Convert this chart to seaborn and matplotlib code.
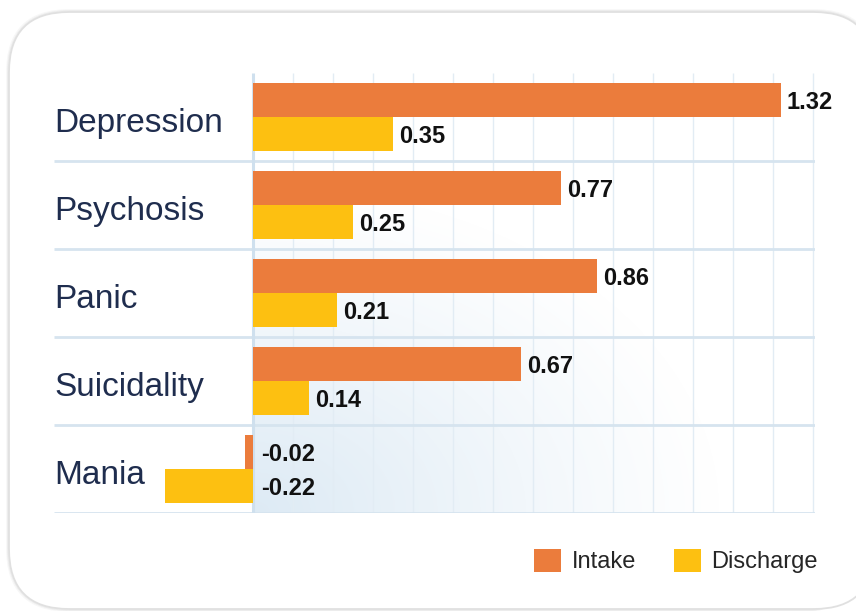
import numpy as np
import pandas as pd
import seaborn as sns
import matplotlib.pyplot as plt
from matplotlib.patches import FancyBboxPatch

# ---- data ----
categories = ["Depression", "Psychosis", "Panic", "Suicidality", "Mania"]
series_names = ["Intake", "Discharge"]
intake = [1.32, 0.77, 0.86, 0.67, -0.02]
discharge = [0.35, 0.25, 0.21, 0.14, -0.22]
grid_values = [0.1, 0.2, 0.3, 0.4, 0.5, 0.6, 0.7, 0.8, 0.9, 1.0, 1.1, 1.2, 1.3, 1.4]

df = pd.DataFrame({
    "category": categories * 2,
    "series": [series_names[0]] * len(categories) + [series_names[1]] * len(categories),
    "value": intake + discharge,
})

ORANGE = "#EB7C3C"
YELLOW = "#FDC011"
NAVY = "#1f2d4e"
GRID = "#d6e4ef"

sns.set_theme(style="white")
plt.rcParams["font.family"] = ["Liberation Sans", "DejaVu Sans"]

W, H = 856, 611
fig = plt.figure(figsize=(W / 100, H / 100), dpi=100)
fig.patch.set_facecolor("white")

# background layer in pixel coordinates: rounded card
bg = fig.add_axes([0, 0, 1, 1])
bg.set_xlim(0, W)
bg.set_ylim(H, 0)
bg.axis("off")
for off, a in [(2.0, 0.08), (1.0, 0.14)]:
    bg.add_patch(FancyBboxPatch((9 - off, 12 - off), 865 + 2 * off, 597 + 2 * off,
                                boxstyle="round,pad=0,rounding_size=62",
                                fc="none", ec="#9a9a9a", lw=1.2, alpha=a))
bg.add_patch(FancyBboxPatch((9, 12), 865, 597,
                            boxstyle="round,pad=0,rounding_size=60",
                            fc="white", ec="#e0e0e0", lw=1.3))

# main plot area
L, R, T, B = 54, 815, 73, 513
ZERO_PX, PX_PER_UNIT = 253, 400.0
ax = fig.add_axes([L / W, (H - B) / H, (R - L) / W, (B - T) / H])
ax.patch.set_alpha(0)
xmin = -(ZERO_PX - L) / PX_PER_UNIT
xmax = (R - ZERO_PX) / PX_PER_UNIT

# soft blue glow in the lower-left of the value region
nx, ny = 400, 300
gx = np.linspace(0, xmax, nx)
gy = np.linspace(-0.5, 4.5, ny)
X, Y = np.meshgrid(gx, gy)
px = X * PX_PER_UNIT
py = (4.5 - Y) * (B - T) / 5.0
d = np.sqrt((px / 470.0) ** 2 + (py / 330.0) ** 2)
alpha = np.clip(1 - d, 0, 1) ** 1.1 * 0.95
img = np.zeros((ny, nx, 4))
img[..., 0] = 0.86
img[..., 1] = 0.915
img[..., 2] = 0.96
img[..., 3] = alpha
ax.imshow(img, extent=(0, xmax, 4.5, -0.5), origin="upper", aspect="auto",
          interpolation="bilinear", zorder=0)

sns.barplot(data=df, y="category", x="value", hue="series", orient="h",
            palette=[ORANGE, YELLOW], width=0.78, saturation=1,
            order=categories, hue_order=series_names, ax=ax, zorder=3,
            errorbar=None, linewidth=0, edgecolor="none")

ax.set_xlim(xmin, xmax)
ax.set_ylim(4.5, -0.5)

# grid
ax.vlines(grid_values, -0.5, 4.5, color="#e2ecf4", lw=1.0, zorder=1)
ax.hlines([0.5, 1.5, 2.5, 3.5, 4.5], xmin, xmax, color=GRID, lw=2.0, zorder=1.5)
ax.vlines([0], -0.5, 4.5, color="#cfe0ee", lw=2.2, zorder=1.6)

for s in ax.spines.values():
    s.set_visible(False)
ax.set_xticks([])
ax.set_yticks([])
ax.set_xlabel("")
ax.set_ylabel("")

# category labels
for i, cat in enumerate(categories):
    ax.text(xmin + 0.5 / PX_PER_UNIT, i + 0.17, cat, ha="left", va="baseline",
            fontsize=24, color=NAVY)

# value labels
values_by_series = [intake, discharge]
for container, vals in zip(ax.containers, values_by_series):
    for rect, v in zip(container.patches, vals):
        yc = rect.get_y() + rect.get_height() / 2 + 0.025
        xpos = v + 6 / PX_PER_UNIT if v >= 0 else 8 / PX_PER_UNIT
        ax.text(xpos, yc, f"{v:.2f}", ha="left", va="center", fontsize=17,
                fontweight="bold", color="#111111", zorder=5)

sns.move_legend(ax, "center", bbox_to_anchor=(676 / W, 1 - 561 / H),
                bbox_transform=fig.transFigure, ncol=2, frameon=False, title=None,
                fontsize=17, handlelength=1.15, handleheight=1.15,
                handletextpad=0.45, columnspacing=1.6)

fig.savefig("out.png", dpi=100, facecolor="white")
